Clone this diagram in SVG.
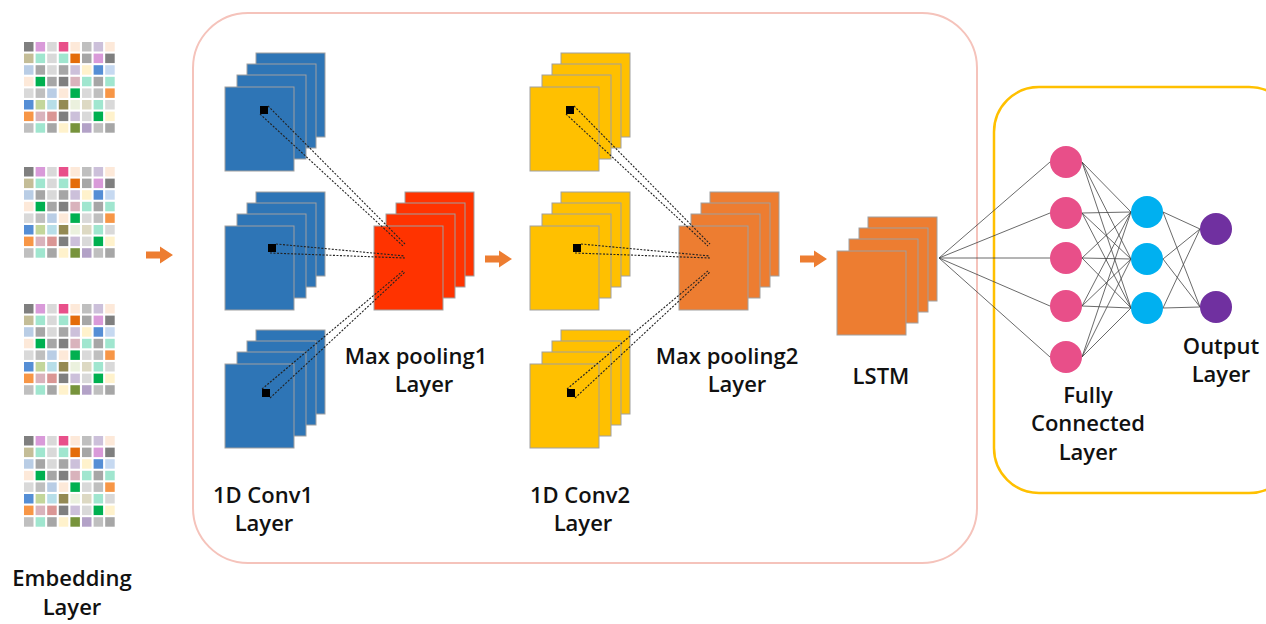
<svg xmlns="http://www.w3.org/2000/svg" xmlns:xlink="http://www.w3.org/1999/xlink" width="1266" height="624" viewBox="0 0 1266 624">
<style>
.lbl{font-family:"Open Sans","Noto Sans","Liberation Sans",sans-serif;font-weight:600;font-size:22px;fill:#111;text-anchor:middle}
.sq{stroke:#a0a0a0;stroke-width:1}
.blue{fill:#2e75b6}
.yel{fill:#ffc000}
.red{fill:#ff3300}
.org{fill:#ed7d31}
.dot{stroke:#222;stroke-width:1.1;stroke-dasharray:2 1.5;fill:none}
.nn{stroke:#444;stroke-width:0.8;fill:none}
.arrow{fill:#ed7d31}
</style>
<defs>
<g id="grid">
<rect x="0" y="0" width="9.5" height="9.5" fill="#7f7f7f"/><rect x="11.6" y="0" width="9.5" height="9.5" fill="#d99ad9"/><rect x="23.2" y="0" width="9.5" height="9.5" fill="#d9d9d9"/><rect x="34.8" y="0" width="9.5" height="9.5" fill="#e8508a"/><rect x="46.4" y="0" width="9.5" height="9.5" fill="#fde9d9"/><rect x="58" y="0" width="9.5" height="9.5" fill="#bfbfbf"/><rect x="69.6" y="0" width="9.5" height="9.5" fill="#ccc0da"/><rect x="81.2" y="0" width="9.5" height="9.5" fill="#fde9d9"/>
<rect x="0" y="11.6" width="9.5" height="9.5" fill="#c4bd97"/><rect x="11.6" y="11.6" width="9.5" height="9.5" fill="#a0e6cf"/><rect x="23.2" y="11.6" width="9.5" height="9.5" fill="#d9d9d9"/><rect x="34.8" y="11.6" width="9.5" height="9.5" fill="#a0e6cf"/><rect x="46.4" y="11.6" width="9.5" height="9.5" fill="#e46c0a"/><rect x="58" y="11.6" width="9.5" height="9.5" fill="#a6a6a6"/><rect x="69.6" y="11.6" width="9.5" height="9.5" fill="#d99ad9"/><rect x="81.2" y="11.6" width="9.5" height="9.5" fill="#7f7f7f"/>
<rect x="0" y="23.2" width="9.5" height="9.5" fill="#b9cde5"/><rect x="11.6" y="23.2" width="9.5" height="9.5" fill="#a6a6a6"/><rect x="23.2" y="23.2" width="9.5" height="9.5" fill="#d9d9d9"/><rect x="34.8" y="23.2" width="9.5" height="9.5" fill="#a6a6a6"/><rect x="46.4" y="23.2" width="9.5" height="9.5" fill="#ccc0da"/><rect x="58" y="23.2" width="9.5" height="9.5" fill="#fff2cc"/><rect x="69.6" y="23.2" width="9.5" height="9.5" fill="#558ed5"/><rect x="81.2" y="23.2" width="9.5" height="9.5" fill="#c6d9f1"/>
<rect x="0" y="34.8" width="9.5" height="9.5" fill="#fde9d9"/><rect x="11.6" y="34.8" width="9.5" height="9.5" fill="#00b050"/><rect x="23.2" y="34.8" width="9.5" height="9.5" fill="#a6a6a6"/><rect x="34.8" y="34.8" width="9.5" height="9.5" fill="#7f7f7f"/><rect x="46.4" y="34.8" width="9.5" height="9.5" fill="#d9b3bc"/><rect x="58" y="34.8" width="9.5" height="9.5" fill="#a0e6cf"/><rect x="69.6" y="34.8" width="9.5" height="9.5" fill="#a6a6a6"/><rect x="81.2" y="34.8" width="9.5" height="9.5" fill="#a0e6cf"/>
<rect x="0" y="46.4" width="9.5" height="9.5" fill="#d9d9d9"/><rect x="11.6" y="46.4" width="9.5" height="9.5" fill="#bfbfbf"/><rect x="23.2" y="46.4" width="9.5" height="9.5" fill="#b9cde5"/><rect x="34.8" y="46.4" width="9.5" height="9.5" fill="#fde9d9"/><rect x="46.4" y="46.4" width="9.5" height="9.5" fill="#00b050"/><rect x="58" y="46.4" width="9.5" height="9.5" fill="#d9d9d9"/><rect x="69.6" y="46.4" width="9.5" height="9.5" fill="#bfbfbf"/><rect x="81.2" y="46.4" width="9.5" height="9.5" fill="#f79646"/>
<rect x="0" y="58" width="9.5" height="9.5" fill="#558ed5"/><rect x="11.6" y="58" width="9.5" height="9.5" fill="#c3d69b"/><rect x="23.2" y="58" width="9.5" height="9.5" fill="#b7dee8"/><rect x="34.8" y="58" width="9.5" height="9.5" fill="#948a54"/><rect x="46.4" y="58" width="9.5" height="9.5" fill="#ebf1de"/><rect x="58" y="58" width="9.5" height="9.5" fill="#ddd9c3"/><rect x="69.6" y="58" width="9.5" height="9.5" fill="#a0e6cf"/><rect x="81.2" y="58" width="9.5" height="9.5" fill="#d9d9d9"/>
<rect x="0" y="69.6" width="9.5" height="9.5" fill="#f79646"/><rect x="11.6" y="69.6" width="9.5" height="9.5" fill="#d9b3bc"/><rect x="23.2" y="69.6" width="9.5" height="9.5" fill="#da9694"/><rect x="34.8" y="69.6" width="9.5" height="9.5" fill="#7f7f7f"/><rect x="46.4" y="69.6" width="9.5" height="9.5" fill="#ccc0da"/><rect x="58" y="69.6" width="9.5" height="9.5" fill="#d9d9d9"/><rect x="69.6" y="69.6" width="9.5" height="9.5" fill="#00b050"/><rect x="81.2" y="69.6" width="9.5" height="9.5" fill="#fff2cc"/>
<rect x="0" y="81.2" width="9.5" height="9.5" fill="#bfbfbf"/><rect x="11.6" y="81.2" width="9.5" height="9.5" fill="#a0e6cf"/><rect x="23.2" y="81.2" width="9.5" height="9.5" fill="#a6a6a6"/><rect x="34.8" y="81.2" width="9.5" height="9.5" fill="#fff2cc"/><rect x="46.4" y="81.2" width="9.5" height="9.5" fill="#77933c"/><rect x="58" y="81.2" width="9.5" height="9.5" fill="#b3a2c7"/><rect x="69.6" y="81.2" width="9.5" height="9.5" fill="#bfbfbf"/><rect x="81.2" y="81.2" width="9.5" height="9.5" fill="#a6a6a6"/>
</g>
<g id="stack">
<rect x="31" y="-34" width="69" height="84" class="sq"/>
<rect x="22" y="-23" width="69" height="84" class="sq"/>
<rect x="12" y="-12" width="69" height="84" class="sq"/>
<rect x="0" y="0" width="69" height="84" class="sq"/>
</g>
<polygon id="arr" points="0,-3.5 14,-3.5 14,-8.5 27,0 14,8.5 14,3.5 0,3.5"/>
</defs>
<rect width="1266" height="624" fill="#ffffff"/>
<g id="cnn-box">
<rect x="193" y="13" width="784" height="550" rx="55" ry="55" fill="none" stroke="#f5c3bb" stroke-width="2"/>
</g>
<g id="fc-box">
<rect x="994" y="87" width="300" height="406" rx="45" ry="45" fill="none" stroke="#ffc000" stroke-width="2.5"/>
</g>
<g id="embedding">
<use xlink:href="#grid" href="#grid" transform="translate(24,42)"/>
<use xlink:href="#grid" href="#grid" transform="translate(24,167)"/>
<use xlink:href="#grid" href="#grid" transform="translate(24,304)"/>
<use xlink:href="#grid" href="#grid" transform="translate(24,436)"/>
<text class="lbl" x="72" y="586">Embedding</text>
<text class="lbl" x="72" y="615">Layer</text>
</g>
<g id="conv1">
<use xlink:href="#stack" href="#stack" class="blue" transform="translate(225,87)"/>
<use xlink:href="#stack" href="#stack" class="blue" transform="translate(225,226)"/>
<use xlink:href="#stack" href="#stack" class="blue" transform="translate(225,364)"/>
<rect x="260" y="106" width="8" height="8" fill="#000"/>
<rect x="268" y="244" width="8" height="8" fill="#000"/>
<rect x="262" y="389" width="8" height="8" fill="#000"/>
<text class="lbl" x="263" y="503">1D Conv1</text>
<text class="lbl" x="264" y="531">Layer</text>
</g>
<g id="maxpool1">
<use xlink:href="#stack" href="#stack" class="red" transform="translate(374,226)"/>
<text class="lbl" x="416" y="364">Max pooling1</text>
<text class="lbl" x="424" y="392">Layer</text>
</g>
<g id="conv2">
<use xlink:href="#stack" href="#stack" class="yel" transform="translate(530,87)"/>
<use xlink:href="#stack" href="#stack" class="yel" transform="translate(530,226)"/>
<use xlink:href="#stack" href="#stack" class="yel" transform="translate(530,364)"/>
<rect x="566" y="106" width="8" height="8" fill="#000"/>
<rect x="573" y="244" width="8" height="8" fill="#000"/>
<rect x="567" y="389" width="8" height="8" fill="#000"/>
<text class="lbl" x="580" y="503">1D Conv2</text>
<text class="lbl" x="583" y="531">Layer</text>
</g>
<g id="maxpool2">
<use xlink:href="#stack" href="#stack" class="org" transform="translate(679,226)"/>
<text class="lbl" x="727" y="364">Max pooling2</text>
<text class="lbl" x="737" y="392">Layer</text>
</g>
<g id="lstm">
<use xlink:href="#stack" href="#stack" class="org" transform="translate(837,251)"/>
<text class="lbl" x="881" y="384">LSTM</text>
</g>
<g id="connectors">
<use xlink:href="#arr" href="#arr" class="arrow" transform="translate(146,255)"/>
<use xlink:href="#arr" href="#arr" class="arrow" transform="translate(485,259)"/>
<use xlink:href="#arr" href="#arr" class="arrow" transform="translate(800,259)"/>
<line class="dot" x1="268" y1="106" x2="405" y2="244"/>
<line class="dot" x1="260" y1="114" x2="403" y2="246"/>
<line class="dot" x1="276" y1="244" x2="405" y2="256"/>
<line class="dot" x1="270" y1="253" x2="405" y2="258"/>
<line class="dot" x1="262" y1="389" x2="404" y2="270"/>
<line class="dot" x1="270" y1="398" x2="405" y2="272"/>
<line class="dot" x1="574" y1="106" x2="710" y2="244"/>
<line class="dot" x1="566" y1="114" x2="708" y2="246"/>
<line class="dot" x1="581" y1="244" x2="710" y2="256"/>
<line class="dot" x1="575" y1="253" x2="710" y2="258"/>
<line class="dot" x1="567" y1="389" x2="709" y2="270"/>
<line class="dot" x1="575" y1="398" x2="710" y2="272"/>
<line class="nn" x1="939" y1="258" x2="1050" y2="162"/>
<line class="nn" x1="939" y1="258" x2="1050" y2="213"/>
<line class="nn" x1="939" y1="258" x2="1050" y2="258"/>
<line class="nn" x1="939" y1="258" x2="1050" y2="306"/>
<line class="nn" x1="939" y1="258" x2="1050" y2="357"/>
<line class="nn" x1="1082" y1="162" x2="1131" y2="212"/><line class="nn" x1="1082" y1="162" x2="1131" y2="259"/><line class="nn" x1="1082" y1="162" x2="1131" y2="308"/>
<line class="nn" x1="1082" y1="213" x2="1131" y2="212"/><line class="nn" x1="1082" y1="213" x2="1131" y2="259"/><line class="nn" x1="1082" y1="213" x2="1131" y2="308"/>
<line class="nn" x1="1082" y1="258" x2="1131" y2="212"/><line class="nn" x1="1082" y1="258" x2="1131" y2="259"/><line class="nn" x1="1082" y1="258" x2="1131" y2="308"/>
<line class="nn" x1="1082" y1="306" x2="1131" y2="212"/><line class="nn" x1="1082" y1="306" x2="1131" y2="259"/><line class="nn" x1="1082" y1="306" x2="1131" y2="308"/>
<line class="nn" x1="1082" y1="357" x2="1131" y2="212"/><line class="nn" x1="1082" y1="357" x2="1131" y2="259"/><line class="nn" x1="1082" y1="357" x2="1131" y2="308"/>
<line class="nn" x1="1163" y1="212" x2="1200" y2="229"/><line class="nn" x1="1163" y1="212" x2="1200" y2="307"/>
<line class="nn" x1="1163" y1="259" x2="1200" y2="229"/><line class="nn" x1="1163" y1="259" x2="1200" y2="307"/>
<line class="nn" x1="1163" y1="308" x2="1200" y2="229"/><line class="nn" x1="1163" y1="308" x2="1200" y2="307"/>
</g>
<g id="fc-layer">
<circle cx="1066" cy="162" r="16" fill="#e84f89"/>
<circle cx="1066" cy="213" r="16" fill="#e84f89"/>
<circle cx="1066" cy="258" r="16" fill="#e84f89"/>
<circle cx="1066" cy="306" r="16" fill="#e84f89"/>
<circle cx="1066" cy="357" r="16" fill="#e84f89"/>
<circle cx="1147" cy="212" r="16" fill="#00b0f0"/>
<circle cx="1147" cy="259" r="16" fill="#00b0f0"/>
<circle cx="1147" cy="308" r="16" fill="#00b0f0"/>
<text class="lbl" x="1088" y="403">Fully</text>
<text class="lbl" x="1088" y="431">Connected</text>
<text class="lbl" x="1088" y="460">Layer</text>
</g>
<g id="output-layer">
<circle cx="1216" cy="229" r="16" fill="#7030a0"/>
<circle cx="1216" cy="307" r="16" fill="#7030a0"/>
<text class="lbl" x="1221" y="354">Output</text>
<text class="lbl" x="1221" y="382">Layer</text>
</g>
</svg>
